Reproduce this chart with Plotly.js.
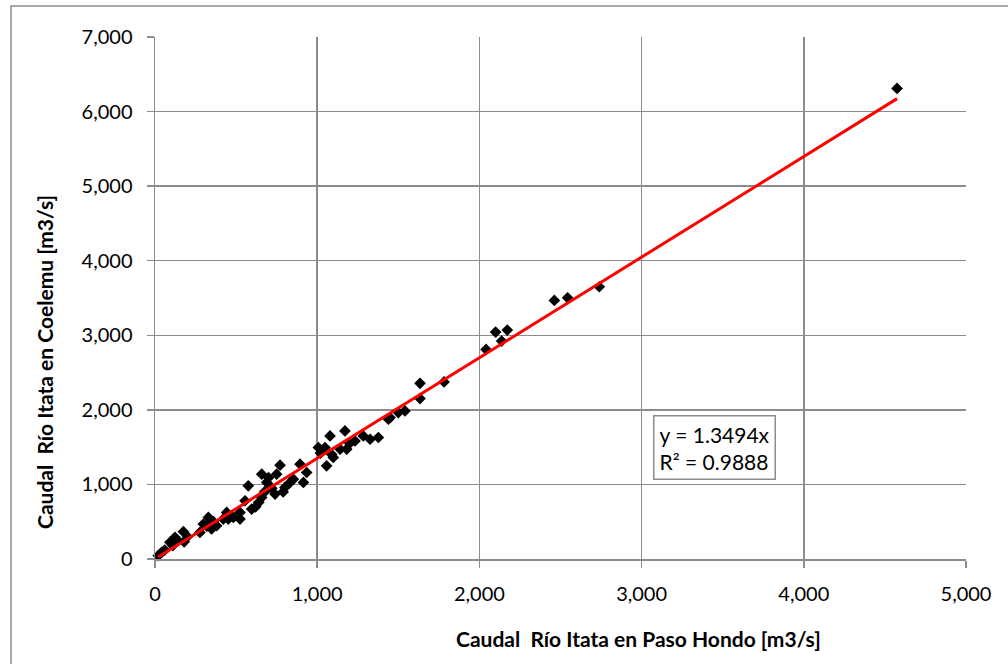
<!DOCTYPE html>
<html>
<head>
<meta charset="utf-8">
<script src="https://cdn.plot.ly/plotly-3.0.1.min.js"></script>
<style>html,body{margin:0;padding:0;background:#fff;}#chart{width:1008px;height:664px;}</style>
</head>
<body>
<div id="chart"></div>
<script>
// Caudal Río Itata en Paso Hondo [m3/s]
const pasoHondo = [20,41,60,92,110,123,140,175,180,200,
  277,298,320,329,349,360,380,421,442,452,483,524,524,555,575,596,620,640,658,658,
  675,689,700,720,740,750,771,790,801,830,853,894,915,935,1007,1020,1048,1058,1079,1090,
  1099,1141,1171,1182,1200,1233,1284,1326,1377,1439,1449,1500,1541,1634,1634,1782,
  2041,2100,2137,2172,2462,2544,2739,4575];
// Caudal Río Itata en Coelemu [m3/s]
const coelemu = [44,90,120,223,180,290,250,366,230,300,
  357,468,440,558,402,500,446,535,625,535,558,535,625,781,981,669,700,760,826,1138,
  900,1027,1090,950,870,1138,1258,900,960,1020,1071,1272,1027,1160,1495,1420,1495,1249,1651,1400,
  1361,1473,1718,1473,1550,1584,1651,1606,1629,1874,1897,1964,1986,2151,2356,2374,
  2811,3043,2922,3070,3467,3503,3651,6310];
const slope = 1.3494;
const r2 = 0.9888;
const xTicks = [0,1000,2000,3000,4000,5000];
const yTicks = [0,1000,2000,3000,4000,5000,6000,7000];

const xMin = Math.min(...pasoHondo), xMax = Math.max(...pasoHondo);
const trendX = [xMin, xMax];
const trendY = trendX.map(v => slope * v);
const fmt = v => v.toLocaleString('en-US');

const FONT = 'Lato, "Open Sans", sans-serif';
const GRID = '#8c8c8c';

const data = [
  {x: pasoHondo, y: coelemu, type: 'scatter', mode: 'markers',
   marker: {symbol: 'diamond', size: 9, color: '#000000'}, showlegend: false, cliponaxis: false},
  {x: trendX, y: trendY, type: 'scatter', mode: 'lines',
   line: {color: '#ff0000', width: 3}, showlegend: false}
];

const layout = {
  width: 1008, height: 664,
  margin: {l: 155, r: 42, t: 37, b: 105},
  paper_bgcolor: '#ffffff', plot_bgcolor: '#ffffff',
  font: {family: FONT, size: 20, color: '#000000'},
  xaxis: {range: [0, 5000], tickvals: xTicks, ticktext: xTicks.map(fmt),
    showgrid: true, gridcolor: GRID, gridwidth: 1.5, zeroline: false,
    showline: true, linecolor: GRID, linewidth: 1.5,
    ticks: 'outside', ticklen: 7, tickcolor: GRID, tickwidth: 1.5,
    ticklabelstandoff: 9, tickfont: {family: FONT, size: 20}, fixedrange: true},
  yaxis: {range: [0, 7000], tickvals: yTicks, ticktext: yTicks.map(fmt),
    showgrid: true, gridcolor: GRID, gridwidth: 1.5, zeroline: false,
    showline: true, linecolor: GRID, linewidth: 1.5,
    ticks: 'outside', ticklen: 7, tickcolor: GRID, tickwidth: 1.5,
    ticklabelstandoff: 10, tickfont: {family: FONT, size: 20}, fixedrange: true},
  shapes: [
    {type: 'rect', xref: 'paper', yref: 'paper',
     x0: (11 - 155) / 811, x1: (1012 - 155) / 811,
     y0: (559 - 670) / 522, y1: (559 - 6) / 522,
     line: {color: '#8c8c8c', width: 1.5}, fillcolor: 'rgba(0,0,0,0)', layer: 'below'}
  ],
  annotations: [
    {xref: 'paper', yref: 'paper', x: (638 - 155) / 811, y: (559 - 638) / 522,
     xanchor: 'center', yanchor: 'middle', showarrow: false,
     text: '<b>Caudal  Río Itata en Paso Hondo [m3/s]</b>', font: {family: FONT, size: 21}},
    {xref: 'paper', yref: 'paper', x: (45 - 155) / 811, y: (559 - 362) / 522,
     xanchor: 'center', yanchor: 'middle', showarrow: false, textangle: -90,
     text: '<b>Caudal  Río Itata en Coelemu [m3/s]</b>', font: {family: FONT, size: 21}},
    {xref: 'x', yref: 'y', x: 3449, y: 1500, xanchor: 'center', yanchor: 'middle',
     showarrow: false, align: 'left',
     text: 'y = ' + slope + 'x<br>R² = ' + r2,
     font: {family: FONT, size: 21}, bgcolor: '#ffffff',
     bordercolor: '#8c8c8c', borderwidth: 1.5, borderpad: 5}
  ]
};

Plotly.newPlot('chart', data, layout, {displayModeBar: false, staticPlot: true});
</script>
</body>
</html>
